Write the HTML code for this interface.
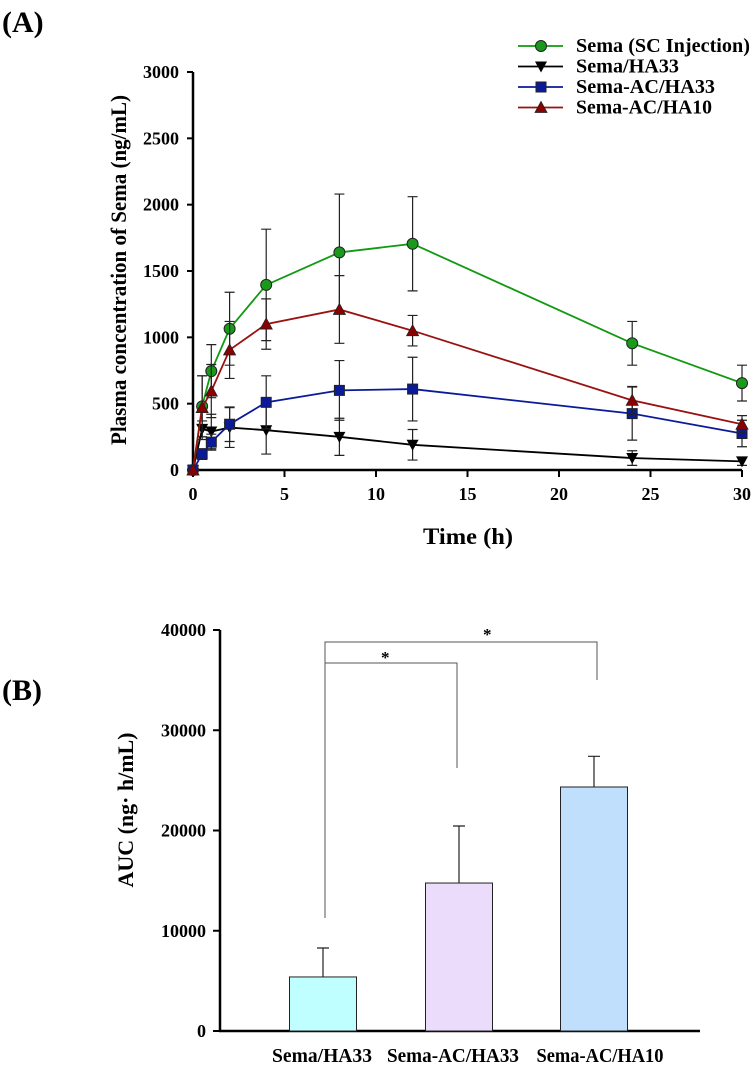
<!DOCTYPE html>
<html><head><meta charset="utf-8"><style>
body{margin:0;background:#fff;}
svg text{font-family:"Liberation Serif","Noto Serif CJK SC",serif;font-weight:bold;}
</style></head><body>
<svg id="c" width="753" height="1067" xmlns="http://www.w3.org/2000/svg">
<text x="2" y="32" font-size="30">(A)</text>
<text x="2" y="700" font-size="30">(B)</text>
<g id="ga"></g>
<g id="gb"></g>
</svg>
<script>
const times=[0,0.5,1,2,4,8,12,24,30];
const seriesNames=["Sema (SC Injection)","Sema/HA33","Sema-AC/HA33","Sema-AC/HA10"];
const greenVals=[0,480,745,1065,1395,1640,1705,955,655];
const greenErr=[0,230,200,275,420,440,355,165,135];
const blackVals=[0,310,290,320,300,250,190,90,65];
const blackErr=[0,60,130,150,180,140,115,55,30];
const blueVals=[0,120,210,345,510,600,610,425,275];
const blueErr=[0,40,60,130,200,225,240,200,100];
const redVals=[0,470,595,905,1100,1210,1050,525,345];
const redErr=[0,240,200,215,190,255,115,105,65];
const yTicksA=[0,500,1000,1500,2000,2500,3000];
const xTicksA=[0,5,10,15,20,25,30];
const barCats=["Sema/HA33","Sema-AC/HA33","Sema-AC/HA10"];
const barVals=[5390,14760,24340];
const barErr=[2890,5690,3060];
const yTicksB=[0,10000,20000,30000,40000];

const NS="http://www.w3.org/2000/svg";
function mk(p,t,a){const e=document.createElementNS(NS,t);for(const k in a)e.setAttribute(k,a[k]);p.appendChild(e);return e;}
const ga=document.getElementById('ga'),gb=document.getElementById('gb');
const xA=v=>193+v*(742-193)/30, yA=v=>470-v*(470-72)/3000;
let e=mk(ga,'line',{x1:193,y1:72,x2:193,y2:471,stroke:'#000','stroke-width':2.5});

e=mk(ga,'line',{x1:192,y1:470,x2:742,y2:470,stroke:'#000','stroke-width':2.5});

yTicksA.forEach(v=>{e=mk(ga,'line',{x1:187,x2:193,y1:yA(v),y2:yA(v),stroke:'#000','stroke-width':2});

e=mk(ga,'text',{x:179,y:yA(v)+6,'text-anchor':'end','font-size':18});e.textContent=v;
});
xTicksA.forEach(v=>{e=mk(ga,'line',{x1:xA(v),x2:xA(v),y1:470,y2:477,stroke:'#000','stroke-width':2});

e=mk(ga,'text',{x:xA(v),y:500,'text-anchor':'middle','font-size':18});e.textContent=v;
});
e=mk(ga,'text',{x:468,y:544,'text-anchor':'middle','font-size':23,textLength:90,lengthAdjust:'spacingAndGlyphs'});e.textContent='Time (h)';

e=mk(ga,'text',{x:0,y:0,'text-anchor':'middle','font-size':22,textLength:350,lengthAdjust:'spacingAndGlyphs',transform:'translate(126,270) rotate(-90)'});e.textContent='Plasma concentration of Sema (ng/mL)';

const series=[[greenVals,greenErr,'#119911','#1a9a1a','circle'],[blackVals,blackErr,'#000','#000','down'],[blueVals,blueErr,'#0a1a99','#0a1a99','square'],[redVals,redErr,'#991111','#8b0000','up']];
const legW=[174,103,139,136];
function marker(g,t,x,y,col){let m;
if(t=='circle')m=mk(g,'circle',{cx:x,cy:y,r:5.5,fill:col,stroke:'#222','stroke-width':1});
else if(t=='square')m=mk(g,'rect',{x:x-5,y:y-5,width:10,height:10,fill:col,stroke:'#222','stroke-width':1});
else if(t=='down')m=mk(g,'path',{d:`M${x-6},${y-5}L${x+6},${y-5}L${x},${y+6}Z`,fill:col});
else m=mk(g,'path',{d:`M${x-6},${y+5}L${x+6},${y+5}L${x},${y-6}Z`,fill:col,stroke:'#222','stroke-width':0.8});
return m;}
series.forEach((s,si)=>{
const g=mk(ga,'g',{});
s[0].forEach((v,i)=>{if(!s[1][i])return;const x=xA(times[i]);
e=mk(g,'path',{d:`M${x},${yA(v-s[1][i])}V${yA(v+s[1][i])}M${x-5},${yA(v+s[1][i])}H${x+5}M${x-5},${yA(v-s[1][i])}H${x+5}`,stroke:'#222','stroke-width':1.2,fill:'none'});
});
e=mk(g,'polyline',{points:s[0].map((v,i)=>xA(times[i])+','+yA(v)).join(' '),fill:'none',stroke:s[2],'stroke-width':1.8});

s[0].forEach((v,i)=>{e=marker(g,s[4],xA(times[i]),yA(v),s[3]);
});
const ly=46+si*20.5;
e=mk(g,'line',{x1:518,x2:563,y1:ly,y2:ly,stroke:s[2],'stroke-width':1.8});

e=marker(g,s[4],541,ly,s[3]);
e=mk(g,'text',{x:576,y:ly+6,'font-size':20,textLength:legW[si],lengthAdjust:'spacingAndGlyphs'});e.textContent=seriesNames[si];

});
const yB=v=>1031-v*(1031-630)/40000;
const bx=[323,459,594],bw=67,fills=['#bfffff','#ecdcfc','#bfdffc'];
const labX=[322,453,600],labW=[100,132,127];
e=mk(gb,'line',{x1:220,y1:630,x2:220,y2:1032,stroke:'#000','stroke-width':2.5});

e=mk(gb,'line',{x1:219,y1:1031,x2:700,y2:1031,stroke:'#000','stroke-width':2.5});

yTicksB.forEach(v=>{e=mk(gb,'line',{x1:213,x2:220,y1:yB(v),y2:yB(v),stroke:'#000','stroke-width':2});

e=mk(gb,'text',{x:206,y:yB(v)+6,'text-anchor':'end','font-size':18});e.textContent=v;
});
e=mk(gb,'text',{x:0,y:0,'text-anchor':'middle','font-size':22,textLength:155,lengthAdjust:'spacingAndGlyphs',transform:'translate(133,810) rotate(-90)'});e.textContent='AUC (ng· h/mL)';

barVals.forEach((v,i)=>{const x=bx[i];
e=mk(gb,'path',{d:`M${x},${yB(v)}V${yB(v+barErr[i])}M${x-6},${yB(v+barErr[i])}H${x+6}`,stroke:'#222','stroke-width':1.2});

e=mk(gb,'rect',{x:x-bw/2,y:yB(v),width:bw,height:yB(0)-yB(v),fill:fills[i],stroke:'#222','stroke-width':1});

e=mk(gb,'text',{x:labX[i],y:1062,'text-anchor':'middle','font-size':20,textLength:labW[i],lengthAdjust:'spacingAndGlyphs'});e.textContent=barCats[i];
});
e=mk(gb,'path',{d:`M325,${yB(11270)}V642H597V${yB(35010)}M325,663H457V${yB(26230)}`,stroke:'#555','stroke-width':1,fill:'none'});

e=mk(gb,'text',{x:381,y:663,'font-size':17});e.textContent='*';

e=mk(gb,'text',{x:483,y:640,'font-size':17});e.textContent='*';

</script>
</body></html>
